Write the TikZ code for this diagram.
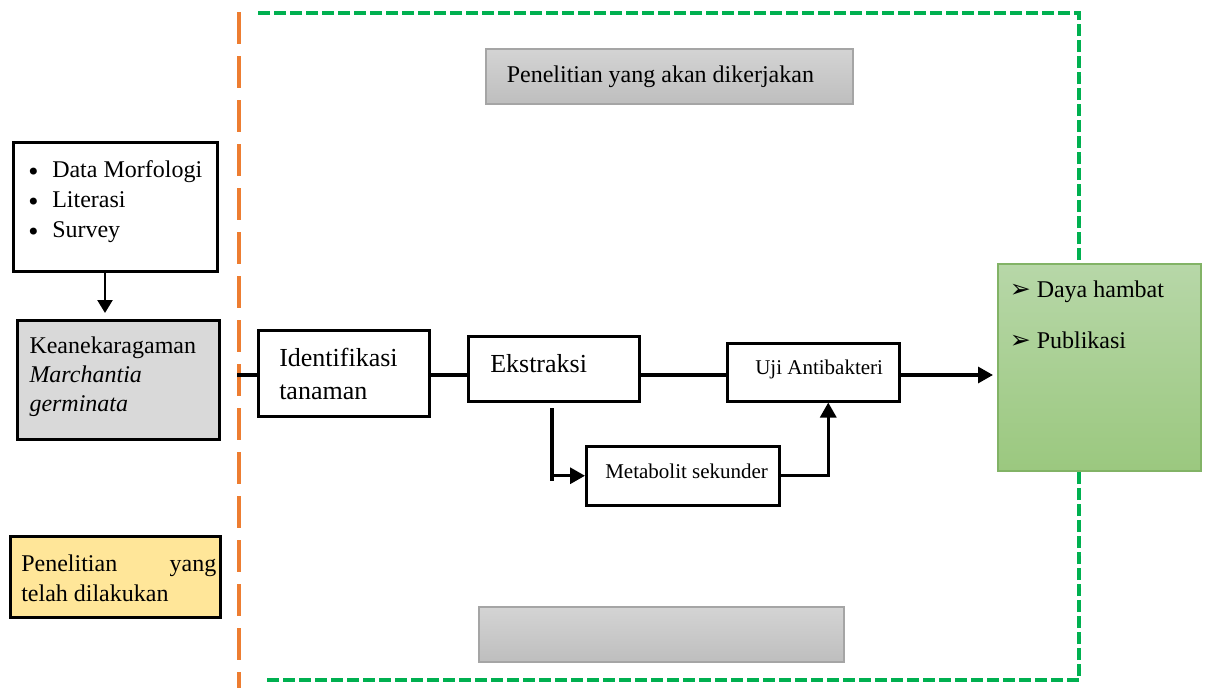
\documentclass[tikz,border=0pt]{standalone}
\usepackage{fontspec}
\setmainfont{Liberation Serif}
\newfontfamily\djv{DejaVu Sans}
\usetikzlibrary{arrows.meta}
\definecolor{orng}{HTML}{ED7D31}
\definecolor{grn}{HTML}{00B050}
\definecolor{kgray}{HTML}{D9D9D9}
\definecolor{ylw}{HTML}{FFE699}
\definecolor{gtop}{HTML}{D4D4D4}
\definecolor{gbot}{HTML}{BEBEBE}
\definecolor{gbrd}{HTML}{A5A5A5}
\definecolor{ltop}{HTML}{B7D7A8}
\definecolor{lbot}{HTML}{9BC87F}
\definecolor{lbrd}{HTML}{82B366}
\newcommand{\bx}[3]{\parbox[c][#2pt][t]{#1pt}{#3}}
\newcommand{\fs}[2]{\fontsize{#1}{#2}\selectfont}
\newcommand{\arrb}{\makebox[27pt][l]{\djv\fontsize{25}{25}\selectfont ➢}}
\newcommand{\dotb}{\makebox[26pt][l]{\raisebox{-3.5pt}{\djv\fontsize{24}{24}\selectfont •}}}
\begin{document}
\begin{tikzpicture}[x=1pt,y=-1pt,
  blk/.style={draw=black,line width=2.5pt,inner sep=0pt,anchor=north west},
  gbox/.style={draw=gbrd,line width=1.5pt,inner sep=0pt,anchor=north west,top color=gtop,bottom color=gbot},
  conn/.style={line width=3.2pt},
  arr/.style={line width=3.2pt,-{Triangle[length=15pt,width=16pt]}},
  orngline/.style={orng,line width=4.5pt,dash pattern=on 32pt off 12pt},
  grnline/.style={grn,line width=4pt,dash pattern=on 12pt off 4pt}]
\useasboundingbox (0,0) rectangle (1207,688);

% frames
\draw[orngline] (239,12) -- (239,688);
\draw[grnline] (267,680) -- (1079,680) -- (1079,13) -- (257,13);

% boxes
\node[gbox] (tgray) at (485,48) {\bx{367}{55}{\fs{24}{30}\rule{0pt}{34pt}\hspace*{21pt}Penelitian yang akan dikerjakan}};
\node[gbox,minimum width=365pt,minimum height=55pt] (bgray) at (478,606) {};

\node[blk] (bul) at (12,141) {\bx{204}{129}{\fs{24}{30}\rule{0pt}{35pt}\hspace*{13pt}\dotb Data Morfologi\\\hspace*{13pt}\dotb Literasi\\\hspace*{13pt}\dotb Survey}};

\node[blk,fill=kgray,line width=3pt] (kean) at (16,319) {\bx{202}{119}{\fs{24}{29}\rule{0pt}{33pt}\hspace*{12pt}Keanekaragaman\\\hspace*{12pt}\textit{Marchantia}\\\hspace*{12pt}\textit{germinata}}};

\node[blk,fill=ylw] (yel) at (9,535) {\bx{210}{81}{\fs{24}{30}\rule{0pt}{35pt}\hspace*{11pt}Penelitian\hfill yang\hspace*{4pt}\\\hspace*{11pt}telah dilakukan}};

\node[blk] (ident) at (257,329) {\bx{171}{86}{\fs{26}{33}\rule{0pt}{36pt}\hspace*{21pt}Identi\kern0pt{}fikasi\\\hspace*{21pt}tanaman}};
\node[blk] (ekstr) at (467,335) {\bx{171}{65}{\fs{26}{33}\rule{0pt}{36pt}\hspace*{22pt}Ekstraksi}};
\node[blk] (uji) at (726,342) {\bx{172}{58}{\fs{21}{26}\rule{0pt}{31pt}\hspace*{28pt}Uji Antibakteri}};
\node[blk] (meta) at (585,445) {\bx{193}{59}{\fs{21}{26}\rule{0pt}{32pt}\hspace*{19pt}Metabolit sekunder}};

\node[draw=lbrd,line width=1.5pt,inner sep=0pt,anchor=north west,top color=ltop,bottom color=lbot] (hasil) at (997,263) {\bx{203}{207}{\fs{24}{51}\rule{0pt}{34pt}\hspace*{12pt}\arrb Daya hambat\\\hspace*{12pt}\arrb Publikasi}};

% connectors
\coordinate (ly) at (0,375);
\coordinate (lstart) at (237,375);
\coordinate (ax) at (105,0);
\coordinate (b1) at (552,408);
\coordinate (b2) at (552,481);

\draw[line width=2.5pt,-{Triangle[length=13pt,width=15pt]},shorten >=6pt] (bul.south -| ax) -- (kean.north -| ax);
\draw[conn] (lstart) -- (lstart -| ident.west);
\draw[conn] (ident.east |- ly) -- (ekstr.west |- ly);
\draw[conn] (ekstr.east |- ly) -- (uji.west |- ly);
\draw[arr,shorten >=4pt] (uji.east |- ly) -- (hasil.west |- ly);
\draw[conn] (b1) -- (b2);
\draw[arr] (b1 |- meta.west) -- (meta.west);
\draw[arr] (meta.east) -| ([xshift=15pt]uji.south);
\end{tikzpicture}
\end{document}
